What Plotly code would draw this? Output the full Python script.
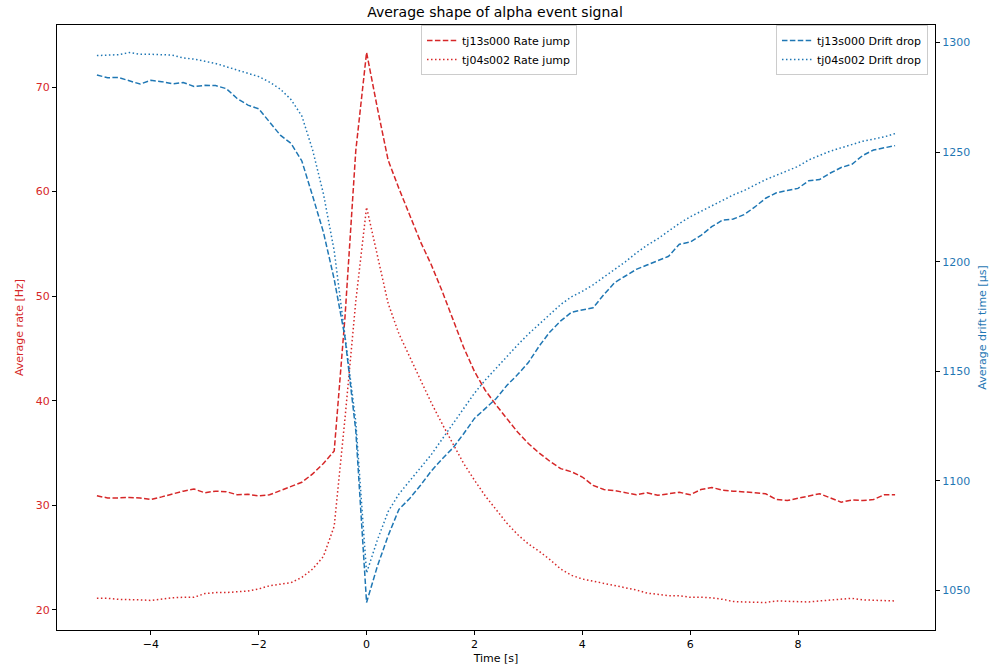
import numpy as np
import plotly.graph_objects as go

# Time axis: -5 s to 9.8 s in 0.2 s steps
time_s = np.round(np.arange(-5.0, 9.81, 0.2), 1)
time_ticks = [-4, -2, 0, 2, 4, 6, 8]

rate_tj13s000 = [
    30.9, 30.7, 30.7, 30.75, 30.7, 30.55, 30.8, 31.1, 31.35, 31.55,
    31.2, 31.35, 31.3, 31.0, 31.05, 30.9, 31.0, 31.4, 31.8, 32.2,
    33.0, 34.0, 35.2, 48.0, 63.9, 73.3, 68.0, 63.0, 60.3, 57.8,
    55.2, 53.0, 50.5, 47.8, 45.1, 42.8, 41.0, 39.6, 38.3, 37.0,
    35.9, 35.0, 34.2, 33.5, 33.2, 32.7, 31.9, 31.5, 31.4, 31.2,
    31.0, 31.2, 30.95, 31.1, 31.25, 31.0, 31.5, 31.7, 31.45, 31.35,
    31.3, 31.2, 31.1, 30.55, 30.45, 30.65, 30.85, 31.1, 30.7, 30.3,
    30.5, 30.45, 30.55, 31.0, 31.0,
]

rate_tj04s002 = [
    21.1, 21.1, 21.0, 21.0, 20.95, 20.9, 21.05, 21.15, 21.2, 21.2,
    21.55, 21.65, 21.65, 21.7, 21.8, 22.0, 22.3, 22.45, 22.6, 23.1,
    23.9, 25.1, 28.0, 38.3, 49.5, 58.5, 53.8, 49.3, 46.4, 44.2,
    41.9, 39.8, 37.8, 35.9, 34.0, 32.4, 30.9, 29.6, 28.3, 27.2,
    26.3, 25.6, 24.8, 23.9, 23.3, 22.95, 22.75, 22.5, 22.3, 22.1,
    21.9, 21.6, 21.45, 21.35, 21.35, 21.2, 21.2, 21.15, 21.0, 20.8,
    20.75, 20.7, 20.7, 20.85, 20.8, 20.75, 20.75, 20.85, 20.95, 21.05,
    21.1, 20.95, 20.9, 20.85, 20.85,
]

drift_tj13s000 = [
    1285.2, 1284.0, 1284.1, 1282.6, 1281.1, 1282.8, 1282.2, 1281.2, 1281.8, 1280.0,
    1280.5, 1280.4, 1279.0, 1274.5, 1271.5, 1269.8, 1264.0, 1257.8, 1254.0, 1246.0,
    1230.0, 1213.5, 1192.0, 1165.5, 1123.0, 1044.5, 1061.0, 1075.0, 1087.0, 1092.0,
    1098.0, 1104.5, 1110.0, 1115.0, 1121.5, 1128.5, 1133.0, 1137.5, 1143.5, 1148.5,
    1154.0, 1161.5, 1168.0, 1173.0, 1177.0, 1178.0, 1179.0, 1185.0, 1190.5, 1193.5,
    1196.5, 1198.5, 1200.5, 1202.5, 1208.0, 1209.0, 1212.0, 1216.0, 1219.0, 1219.5,
    1221.5, 1225.0, 1229.0, 1231.5, 1232.5, 1233.5, 1237.0, 1237.5, 1240.5, 1243.0,
    1244.5, 1248.5, 1251.0, 1252.0, 1253.0,
]

drift_tj04s002 = [
    1294.1, 1294.2, 1294.5, 1295.5, 1294.7, 1294.7, 1294.6, 1294.3, 1293.0, 1292.5,
    1291.5, 1290.5, 1289.0, 1287.6, 1286.2, 1284.5, 1282.0, 1278.8, 1274.0, 1266.5,
    1251.0, 1231.0, 1205.0, 1166.0, 1127.0, 1058.0, 1073.0, 1086.0, 1094.0, 1100.0,
    1106.0, 1112.0, 1119.0, 1126.0, 1133.0, 1140.0, 1146.0, 1151.5, 1157.0, 1162.0,
    1167.0, 1171.5, 1176.0, 1180.5, 1184.0, 1186.5, 1189.5, 1193.0, 1196.5, 1200.0,
    1204.0, 1207.5, 1210.5, 1214.0, 1217.5, 1220.5, 1223.0, 1225.5, 1228.0, 1230.5,
    1232.5, 1235.0, 1237.5, 1239.5, 1241.5, 1243.5, 1246.5, 1248.5, 1250.5, 1252.0,
    1253.5, 1255.0, 1256.0, 1257.0, 1258.5,
]

RED = "#d62728"
BLUE = "#1f77b4"
DASH = "5.5px,2.4px"
DOT = "1.5px,2.5px"
FONT = "DejaVu Sans"


def padded(values, frac=0.05):
    lo, hi = min(values), max(values)
    pad = (hi - lo) * frac
    return [lo - pad, hi + pad]


fig = go.Figure()

fig.add_trace(go.Scatter(
    x=time_s, y=rate_tj13s000, mode="lines", name="tj13s000 Rate jump",
    line=dict(color=RED, width=1.5, dash=DASH), yaxis="y", legend="legend",
))
fig.add_trace(go.Scatter(
    x=time_s, y=rate_tj04s002, mode="lines", name="tj04s002 Rate jump",
    line=dict(color=RED, width=1.5, dash=DOT), yaxis="y", legend="legend",
))
fig.add_trace(go.Scatter(
    x=time_s, y=drift_tj13s000, mode="lines", name="tj13s000 Drift drop",
    line=dict(color=BLUE, width=1.5, dash=DASH), yaxis="y2", legend="legend2",
))
fig.add_trace(go.Scatter(
    x=time_s, y=drift_tj04s002, mode="lines", name="tj04s002 Drift drop",
    line=dict(color=BLUE, width=1.5, dash=DOT), yaxis="y2", legend="legend2",
))

legend_style = dict(
    bgcolor="rgba(255,255,255,0.8)", bordercolor="#cccccc", borderwidth=1,
    font=dict(family=FONT, size=11, color="#000000"),
    yanchor="top", y=1.0, tracegroupgap=0, itemwidth=30,
)

fig.update_layout(
    width=990, height=665,
    margin=dict(l=57, r=55, t=25, b=35, autoexpand=False),
    paper_bgcolor="white", plot_bgcolor="white",
    font=dict(family=FONT, size=11, color="#000000"),
    title=dict(text="Average shape of alpha event signal", x=0.5, xanchor="center",
               y=0.982, yanchor="middle", font=dict(family=FONT, size=14)),
    showlegend=True,
    legend=dict(**legend_style, x=0.4146, xanchor="left"),
    legend2=dict(**legend_style, x=0.992, xanchor="right"),
    xaxis=dict(
        range=padded(time_s), tickmode="array", tickvals=time_ticks,
        showgrid=False, zeroline=False, automargin=False,
        showline=True, linecolor="#000000", linewidth=1, mirror=True,
        ticks="outside", ticklen=4, tickcolor="#000000",
        tickfont=dict(family=FONT, size=11, color="#000000"),
        title=dict(text="Time [s]", font=dict(family=FONT, size=11), standoff=5),
    ),
    yaxis=dict(
        range=padded(rate_tj13s000 + rate_tj04s002), dtick=10, tick0=0,
        showgrid=False, zeroline=False, automargin=False,
        showline=True, linecolor="#000000", linewidth=1,
        ticks="outside", ticklen=4, tickcolor="#000000",
        tickfont=dict(family=FONT, size=11, color=RED),
        title=dict(text="Average rate [Hz]", font=dict(family=FONT, size=11, color=RED), standoff=9),
    ),
    yaxis2=dict(
        range=padded(drift_tj13s000 + drift_tj04s002), dtick=50, tick0=0,
        overlaying="y", side="right", showgrid=False, zeroline=False, automargin=False,
        showline=True, linecolor="#000000", linewidth=1,
        ticks="outside", ticklen=4, tickcolor="#000000",
        tickfont=dict(family=FONT, size=11, color=BLUE),
        title=dict(text="Average drift time [μs]", font=dict(family=FONT, size=11, color=BLUE), standoff=9),
    ),
)

fig.write_html("out.html")
